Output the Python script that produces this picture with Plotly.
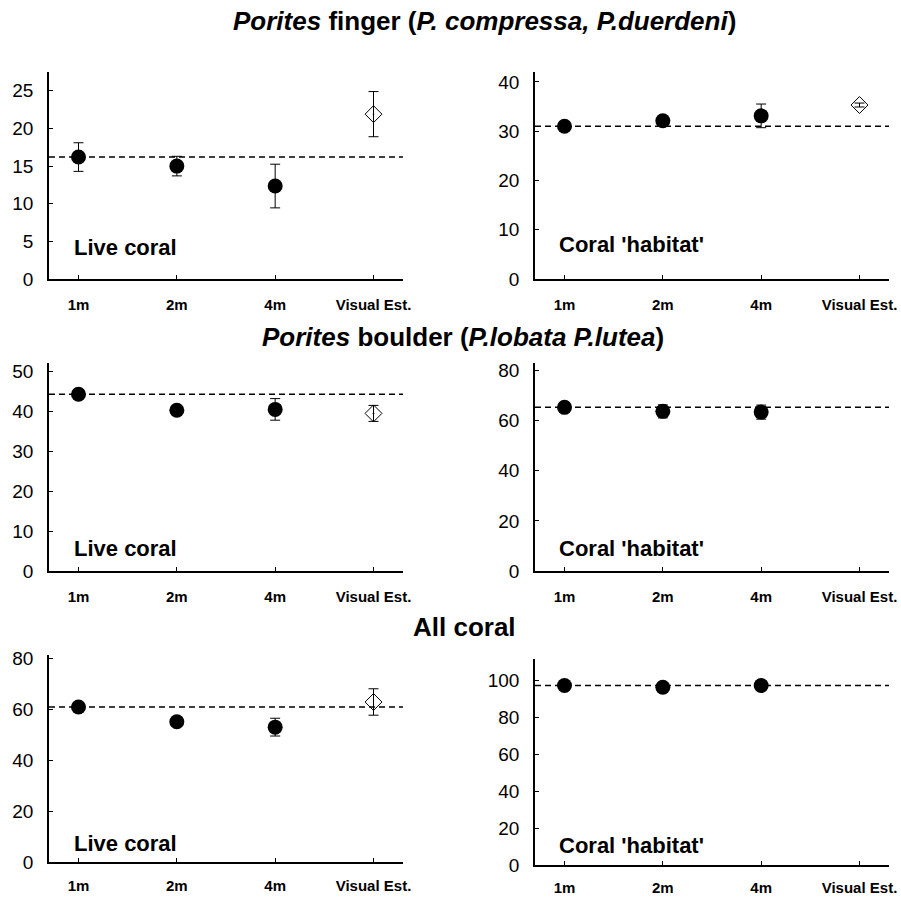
import plotly.graph_objects as go

W, H = 901, 900
FONT = "Liberation Sans, Arial, sans-serif"

categories = ["1m", "2m", "4m", "Visual Est."]

# Panel data: means and errors for 1m, 2m, 4m ; visual estimate separately
finger_live = [16.2, 15.0, 12.35]
finger_live_err = [1.9, 1.3, 2.9]
finger_live_vis = 21.9
finger_live_vis_err = 3.0
finger_live_ref = 16.2

finger_hab = [31.0, 32.1, 33.1]
finger_hab_err = [0.8, 0.8, 2.4]
finger_hab_vis = 35.3
finger_hab_vis_err = 0.4
finger_hab_ref = 31.0

boulder_live = [44.2, 40.2, 40.4]
boulder_live_err = [1.0, 1.0, 2.7]
boulder_live_vis = 39.4
boulder_live_vis_err = 2.0
boulder_live_ref = 44.2

boulder_hab = [65.3, 63.7, 63.4]
boulder_hab_err = [1.5, 2.6, 2.8]
boulder_hab_ref = 65.3

all_live = [61.0, 55.2, 53.1]
all_live_err = [1.0, 1.5, 3.5]
all_live_vis = 63.0
all_live_vis_err = 5.2
all_live_ref = 61.0

all_hab = [97.3, 96.4, 97.3]
all_hab_err = [1.0, 1.5, 1.5]
all_hab_ref = 97.3

y_ranges = [[0, 27.5], [0, 42], [0, 52], [0, 83], [0, 81.5], [0, 111.7]]
y_ticks = [[0, 5, 10, 15, 20, 25], [0, 10, 20, 30, 40], [0, 10, 20, 30, 40, 50],
           [0, 20, 40, 60, 80], [0, 20, 40, 60, 80], [0, 20, 40, 60, 80, 100]]

titles = ["<i>Porites</i> finger (<i>P. compressa, P.duerdeni</i>)",
          "<i>Porites</i> boulder (<i>P.lobata P.lutea</i>)",
          "All coral"]
panel_labels = ["Live coral", "Coral 'habitat'"]

panels = [
    (finger_live, finger_live_err, finger_live_vis, finger_live_vis_err, finger_live_ref),
    (finger_hab, finger_hab_err, finger_hab_vis, finger_hab_vis_err, finger_hab_ref),
    (boulder_live, boulder_live_err, boulder_live_vis, boulder_live_vis_err, boulder_live_ref),
    (boulder_hab, boulder_hab_err, None, None, boulder_hab_ref),
    (all_live, all_live_err, all_live_vis, all_live_vis_err, all_live_ref),
    (all_hab, all_hab_err, None, None, all_hab_ref),
]

# layout geometry in pixels (left, right, top, bottom) of each plot area
px_boxes = [
    (49, 403, 72, 279), (535, 889, 72, 279),
    (49, 403, 363, 571), (535, 889, 363, 571),
    (49, 403, 655, 862), (535, 889, 659, 865),
]
x_standoff = [11, 11, 11, 11, 9, 8]
label_pos = [(72, 247), (557, 245), (72, 548), (557, 548), (72, 843), (557, 845)]
title_pos = [(484, 21), (463, 337), (465, 627)]

fig = go.Figure()
shapes = []
annotations = []

for i, (vals, errs, vis, vis_err, ref) in enumerate(panels):
    n = i + 1
    xa = "x" if n == 1 else f"x{n}"
    ya = "y" if n == 1 else f"y{n}"
    fig.add_trace(go.Scatter(
        x=categories[:3], y=vals, mode="markers",
        marker=dict(symbol="circle", size=15, color="black"),
        error_y=dict(type="data", array=errs, visible=True, color="black", thickness=1, width=5),
        xaxis=xa, yaxis=ya, showlegend=False, cliponaxis=False))
    if vis is not None:
        fig.add_trace(go.Scatter(
            x=[categories[3]], y=[vis], mode="markers",
            marker=dict(symbol="diamond-open-dot", size=13, color="black", line=dict(width=1, color="black")),
            error_y=dict(type="data", array=[vis_err], visible=True, color="black", thickness=1, width=5),
            xaxis=xa, yaxis=ya, showlegend=False, cliponaxis=False))
    shapes.append(dict(type="line", xref=f"{xa} domain", yref=ya, x0=0, x1=1, y0=ref, y1=ref,
                       line=dict(color="black", width=1.5, dash="6px,4px"), layer="below"))
    l, r, t, b = px_boxes[i]
    xd = [l / W, r / W]
    yd = [1 - b / H, 1 - t / H]
    key = "" if n == 1 else str(n)
    fig.layout["xaxis" + key] = dict(
        domain=xd, anchor=ya, type="category", categoryarray=categories, categoryorder="array",
        range=[-0.3, 3.3], showline=True, linecolor="black", linewidth=1.5, mirror=False,
        ticks="inside", ticklen=4, tickcolor="black", tickwidth=1, automargin=False,
        showgrid=False, zeroline=False, fixedrange=True,
        tickfont=dict(family=FONT, size=15, color="black", weight="bold"),
        ticklabelstandoff=x_standoff[i])
    fig.layout["yaxis" + key] = dict(
        domain=yd, anchor=xa, range=y_ranges[i], tickvals=y_ticks[i],
        showline=True, linecolor="black", linewidth=1.5, automargin=False,
        ticks="inside", ticklen=4, tickcolor="black", tickwidth=1,
        showgrid=False, zeroline=False, fixedrange=True,
        tickfont=dict(family=FONT, size=19, color="black"),
        ticklabelstandoff=10)
    lx, ly = label_pos[i]
    annotations.append(dict(text=f"<b>{panel_labels[i % 2]}</b>", x=lx / W, y=1 - ly / H,
                            xref="paper", yref="paper", xanchor="left", yanchor="middle",
                            showarrow=False, font=dict(family=FONT, size=22, color="black")))

for j, ttl in enumerate(titles):
    tx, ty = title_pos[j]
    annotations.append(dict(text=f"<b>{ttl}</b>", x=tx / W, y=1 - ty / H, xref="paper", yref="paper",
                            xanchor="center", yanchor="middle", showarrow=False,
                            font=dict(family=FONT, size=26, color="black")))

fig.update_layout(width=W, height=H, margin=dict(l=0, r=0, t=0, b=0),
                  paper_bgcolor="white", plot_bgcolor="white",
                  shapes=shapes, annotations=annotations, showlegend=False)

fig.write_html("out.html", config={"displayModeBar": False},
               post_script="document.body.style.margin='0';document.body.style.overflow='hidden';")
